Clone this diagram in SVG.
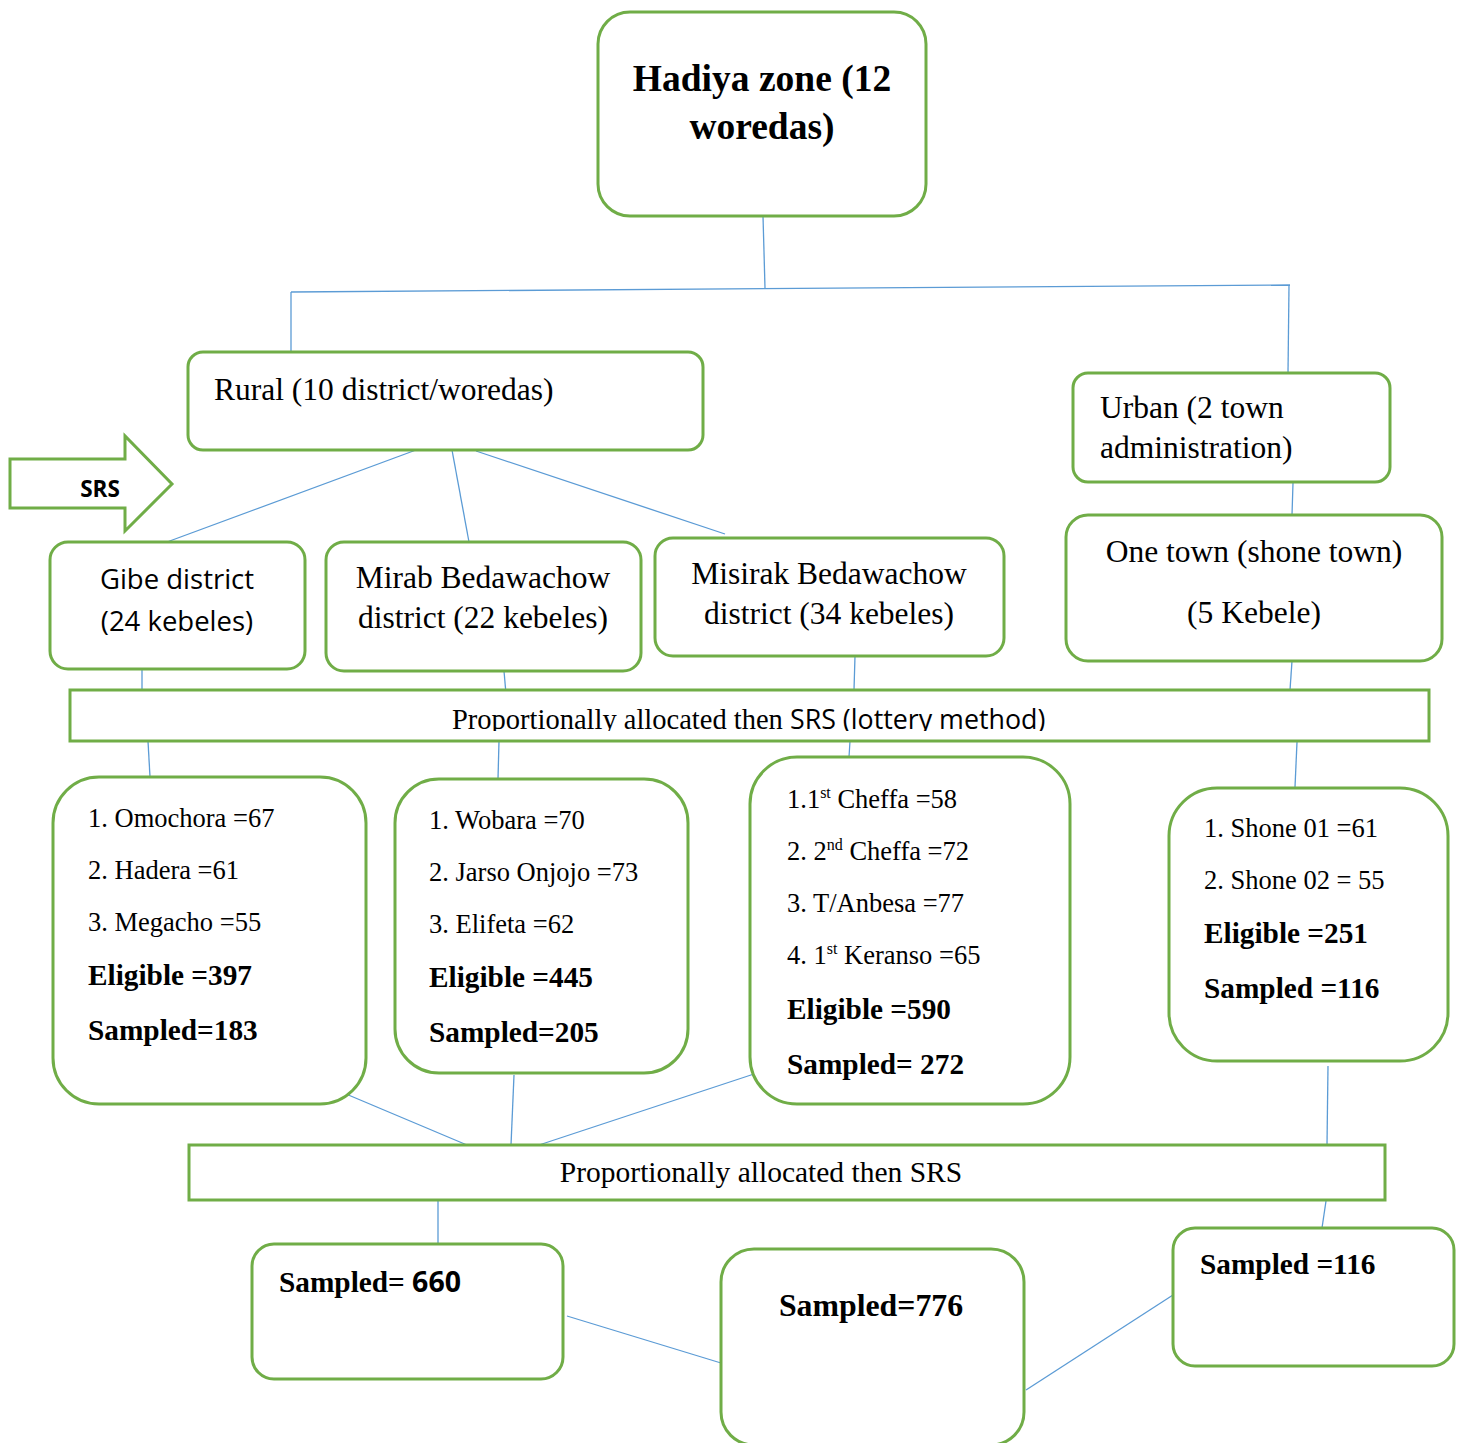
<svg xmlns="http://www.w3.org/2000/svg" width="1458" height="1443" viewBox="0 0 1458 1443">
<defs>
<style>
.box{fill:#fff;stroke:#70AD47;stroke-width:3}
.con line{stroke:#5B9BD5;stroke-width:1.3;fill:none}
.t{font-family:"Liberation Serif","Times New Roman",serif;fill:#000}
.s{font-family:"Open Sans","Liberation Sans",sans-serif;fill:#000}
.b{font-weight:bold}
.mid{text-anchor:middle}
.f315{font-size:31.5px}
.f265{font-size:26.5px}
.f29{font-size:29.3px}
.sup{font-size:16px}
</style>
<clipPath id="clipTop"><rect x="70" y="690" width="1360" height="41"/></clipPath>
</defs>
<rect width="1458" height="1443" fill="#fff"/>

<g id="connectors" class="con">
<line x1="763" y1="216" x2="765" y2="288"/>
<line x1="291" y1="292" x2="1290" y2="285"/>
<line x1="291" y1="292" x2="291" y2="351"/>
<line x1="1289" y1="286" x2="1288" y2="373"/>
<line x1="416" y1="450" x2="167" y2="542"/>
<line x1="452" y1="450" x2="469" y2="542"/>
<line x1="476" y1="451" x2="725" y2="534"/>
<line x1="1293" y1="483" x2="1292" y2="515"/>
<line x1="142" y1="669" x2="142" y2="690"/>
<line x1="504" y1="671" x2="506" y2="694"/>
<line x1="855" y1="656" x2="854" y2="690"/>
<line x1="1292" y1="661" x2="1290" y2="690"/>
<line x1="148" y1="741" x2="150" y2="777"/>
<line x1="499" y1="741" x2="498" y2="779"/>
<line x1="850" y1="741" x2="849" y2="757"/>
<line x1="1297" y1="742" x2="1295" y2="787"/>
<line x1="346" y1="1094" x2="467" y2="1145"/>
<line x1="514" y1="1075" x2="511" y2="1145"/>
<line x1="754" y1="1074" x2="539" y2="1145"/>
<line x1="1328" y1="1066" x2="1327" y2="1145"/>
<line x1="438" y1="1201" x2="438" y2="1243"/>
<line x1="1326" y1="1201" x2="1322" y2="1228"/>
<line x1="567" y1="1316" x2="721" y2="1363"/>
<line x1="1026" y1="1390" x2="1173" y2="1295"/>
</g>

<g id="hadiya">
<rect class="box" x="598" y="12" width="328" height="204" rx="32"/>
<text class="t b mid" x="762" y="91" font-size="37.5">Hadiya zone (12</text>
<text class="t b mid" x="762" y="139" font-size="37.5">woredas)</text>
</g>

<g id="rural">
<rect class="box" x="188" y="352" width="515" height="98" rx="15"/>
<text class="t f315" x="214" y="400">Rural (10 district/woredas)</text>
</g>

<g id="urban">
<rect class="box" x="1073" y="373" width="317" height="109" rx="15"/>
<text class="t f315" x="1100" y="418">Urban (2 town</text>
<text class="t f315" x="1100" y="458">administration)</text>
</g>

<g id="srs-arrow">
<polygon class="box" points="10,459 125,459 125,436 172,484 125,531 125,508 10,508"/>
<text class="s b" x="100" y="497" font-size="22.5" text-anchor="middle">SRS</text>
</g>

<g id="gibe">
<rect class="box" x="50" y="542" width="255" height="127" rx="18"/>
<text class="s mid" x="177" y="589" font-size="27.5">Gibe district</text>
<text class="s mid" x="177" y="631" font-size="27.5">(24 kebeles)</text>
</g>

<g id="mirab">
<rect class="box" x="326" y="542" width="315" height="129" rx="18"/>
<text class="t f315 mid" x="483" y="588">Mirab Bedawachow</text>
<text class="t f315 mid" x="483" y="628">district (22 kebeles)</text>
</g>

<g id="misirak">
<rect class="box" x="655" y="538" width="349" height="118" rx="18"/>
<text class="t f315 mid" x="829" y="584">Misirak Bedawachow</text>
<text class="t f315 mid" x="829" y="624">district (34 kebeles)</text>
</g>

<g id="onetown">
<rect class="box" x="1066" y="515" width="376" height="146" rx="22"/>
<text class="t f315 mid" x="1254" y="562">One town (shone town)</text>
<text class="t f315 mid" x="1254" y="623">(5 Kebele)</text>
</g>

<g id="prop1">
<rect class="box" x="70" y="690" width="1359" height="51"/>
<text clip-path="url(#clipTop)" x="452" y="729"><tspan class="t" font-size="28.5">Proportionally allocated then </tspan><tspan class="s" font-size="26.8">SRS (lottery method)</tspan></text>
</g>

<g id="gibe-kebeles">
<rect class="box" x="53" y="777" width="313" height="327" rx="46"/>
<text class="t f265" x="88" y="827">1. Omochora =67</text>
<text class="t f265" x="88" y="879">2. Hadera =61</text>
<text class="t f265" x="88" y="931">3. Megacho =55</text>
<text class="t b f29" x="88" y="985">Eligible =397</text>
<text class="t b f29" x="88" y="1040">Sampled=183</text>
</g>

<g id="mirab-kebeles">
<rect class="box" x="395" y="779" width="293" height="294" rx="44"/>
<text class="t f265" x="429" y="829">1. Wobara =70</text>
<text class="t f265" x="429" y="881">2. Jarso Onjojo =73</text>
<text class="t f265" x="429" y="933">3. Elifeta =62</text>
<text class="t b f29" x="429" y="987">Eligible =445</text>
<text class="t b f29" x="429" y="1042">Sampled=205</text>
</g>

<g id="misirak-kebeles">
<rect class="box" x="750" y="757" width="320" height="347" rx="47"/>
<text class="t f265" x="787" y="808">1.1<tspan class="sup" dy="-10">st</tspan><tspan dy="10"> Cheffa =58</tspan></text>
<text class="t f265" x="787" y="860">2. 2<tspan class="sup" dy="-10">nd</tspan><tspan dy="10"> Cheffa =72</tspan></text>
<text class="t f265" x="787" y="912">3. T/Anbesa =77</text>
<text class="t f265" x="787" y="964">4. 1<tspan class="sup" dy="-10">st</tspan><tspan dy="10"> Keranso =65</tspan></text>
<text class="t b f29" x="787" y="1019">Eligible =590</text>
<text class="t b f29" x="787" y="1074">Sampled= 272</text>
</g>

<g id="shone-kebeles">
<rect class="box" x="1169" y="788" width="279" height="273" rx="48"/>
<text class="t f265" x="1204" y="837">1. Shone 01 =61</text>
<text class="t f265" x="1204" y="889">2. Shone 02 = 55</text>
<text class="t b f29" x="1204" y="943">Eligible =251</text>
<text class="t b f29" x="1204" y="998">Sampled =116</text>
</g>

<g id="prop2">
<rect class="box" x="189" y="1145" width="1196" height="55"/>
<text class="t mid" x="761" y="1182" font-size="29.5">Proportionally allocated then SRS</text>
</g>

<g id="sampled660">
<rect class="box" x="252" y="1244" width="311" height="135" rx="22"/>
<text x="279" y="1292"><tspan class="t b" font-size="29.3">Sampled= </tspan><tspan class="s b" font-size="28.5">660</tspan></text>
</g>

<g id="sampled776">
<rect class="box" x="721" y="1249" width="303" height="196" rx="33"/>
<text class="t b mid" x="871" y="1316" font-size="31.8">Sampled=776</text>
</g>

<g id="sampled116">
<rect class="box" x="1173" y="1228" width="281" height="138" rx="22"/>
<text class="t b f29" x="1200" y="1274">Sampled =116</text>
</g>
</svg>
